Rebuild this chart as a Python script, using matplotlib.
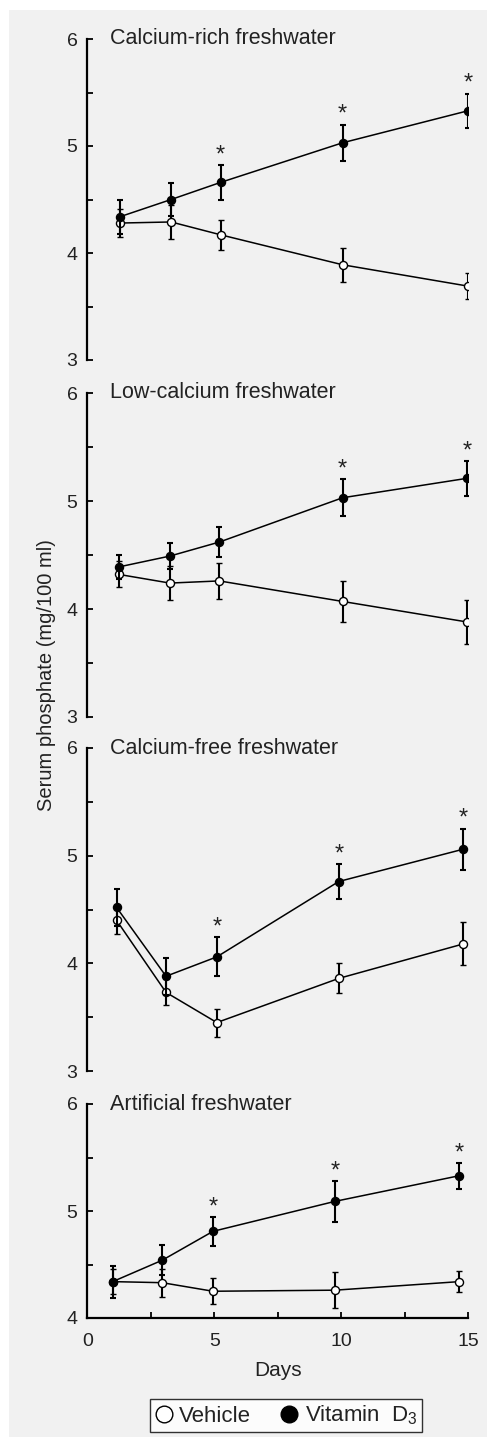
import matplotlib
matplotlib.use('Agg')
import matplotlib.pyplot as plt
from matplotlib.lines import Line2D
from matplotlib.patches import Rectangle
from matplotlib.ticker import MultipleLocator

plt.rcParams['font.family'] = ['Liberation Sans', 'DejaVu Sans']
plt.rcParams['mathtext.default'] = 'regular'

# Panel titles
titles = ['Calcium-rich freshwater', 'Low-calcium freshwater',
          'Calcium-free freshwater', 'Artificial freshwater']

# Sampling days (the scans are slightly shifted)
days_rich = [1.3, 3.3, 5.25, 10.05, 15.0]
days_low = [1.25, 3.25, 5.2, 10.05, 14.95]
days_free = [1.15, 3.1, 5.1, 9.9, 14.8]
days_art = [1.0, 2.95, 4.95, 9.75, 14.65]

# Vehicle (open circles): mean and SEM
veh_rich = [4.28, 4.29, 4.17, 3.89, 3.69]
veh_rich_err = [0.13, 0.16, 0.14, 0.16, 0.12]
veh_low = [4.32, 4.24, 4.26, 4.07, 3.88]
veh_low_err = [0.12, 0.16, 0.17, 0.19, 0.20]
veh_free = [4.40, 3.73, 3.45, 3.86, 4.18]
veh_free_err = [0.13, 0.12, 0.13, 0.14, 0.20]
veh_art = [4.34, 4.33, 4.25, 4.26, 4.34]
veh_art_err = [0.12, 0.13, 0.12, 0.17, 0.10]

# Vitamin D3 (filled circles): mean and SEM
vit_rich = [4.34, 4.50, 4.66, 5.03, 5.33]
vit_rich_err = [0.16, 0.15, 0.16, 0.17, 0.16]
vit_low = [4.39, 4.49, 4.62, 5.03, 5.21]
vit_low_err = [0.11, 0.12, 0.14, 0.17, 0.16]
vit_free = [4.52, 3.88, 4.06, 4.76, 5.06]
vit_free_err = [0.17, 0.17, 0.18, 0.16, 0.19]
vit_art = [4.34, 4.54, 4.81, 5.09, 5.33]
vit_art_err = [0.15, 0.14, 0.135, 0.19, 0.12]

# indices of significant vitamin D3 points (asterisks)
sig_rich = [2, 3, 4]
sig_low = [3, 4]
sig_free = [2, 3, 4]
sig_art = [2, 3, 4]

panels = [
    (days_rich, veh_rich, veh_rich_err, vit_rich, vit_rich_err, sig_rich, (3, 6)),
    (days_low, veh_low, veh_low_err, vit_low, vit_low_err, sig_low, (3, 6)),
    (days_free, veh_free, veh_free_err, vit_free, vit_free_err, sig_free, (3, 6)),
    (days_art, veh_art, veh_art_err, vit_art, vit_art_err, sig_art, (4, 6)),
]

W, H = 487, 1447
fig = plt.figure(figsize=(W / 100, H / 100), dpi=100)
fig.patch.set_facecolor('white')
fig.patches.append(Rectangle((9 / W, 1 - 1437 / H), 1 - 9 / W, (1437 - 10) / H,
                             transform=fig.transFigure, facecolor='#f1f1f1',
                             edgecolor='none', zorder=-10))

# axes placement in pixels (top of y=6, bottom of axis)
boxes = [(39, 360), (393, 717), (748, 1071), (1104, 1318)]
left = 87.3 / W
width = (468.3 - 87.3) / W

for i, ((days, veh, veh_e, vit, vit_e, sig, ylim), (top, bot)) in enumerate(zip(panels, boxes)):
    ax = fig.add_axes([left, 1 - bot / H, width, (bot - top) / H])
    ax.patch.set_alpha(0)
    ax.set_xlim(0, 15)
    ax.set_ylim(*ylim)
    ax.errorbar(days, veh, yerr=veh_e, fmt='-o', color='black', lw=1.1,
                elinewidth=1.5, capsize=2.2, capthick=1.5, ms=5.8,
                mfc='white', mec='black', mew=1.0, zorder=3)
    ax.errorbar(days, vit, yerr=vit_e, fmt='-o', color='black', lw=1.1,
                elinewidth=1.5, capsize=2.2, capthick=1.5, ms=5.8,
                mfc='black', mec='black', zorder=4)
    for j in sig:
        ax.annotate('*', (days[j], vit[j] + vit_e[j]), xytext=(0, 7),
                    textcoords='offset points', ha='center', va='center',
                    fontsize=17, color='#222222')
    ax.text(0.9, 6, titles[i], ha='left', va='center', fontsize=15.5,
            color='#222222')

    for s in ['top', 'right']:
        ax.spines[s].set_visible(False)
    ax.spines['left'].set_linewidth(1.6)
    ax.yaxis.set_major_locator(MultipleLocator(1))
    ax.yaxis.set_minor_locator(MultipleLocator(0.5))
    ax.tick_params(axis='y', which='both', direction='in', length=4.5,
                   width=1.3, labelsize=14, pad=7, labelcolor='#222222')
    if i < 3:
        ax.spines['bottom'].set_visible(False)
        ax.set_xticks([])
    else:
        ax.spines['bottom'].set_linewidth(1.6)
        ax.xaxis.set_major_locator(MultipleLocator(5))
        ax.xaxis.set_minor_locator(MultipleLocator(2.5))
        ax.tick_params(axis='x', which='both', direction='in', length=4.5,
                       width=1.3, labelsize=14, pad=11, labelcolor='#222222')
        ax.set_xlabel('Days', fontsize=15, labelpad=8, color='#222222')

fig.text(47 / W, 1 - 675 / H, 'Serum phosphate (mg/100 ml)', rotation=90,
         ha='center', va='center', fontsize=14.5, color='#222222')

handles = [
    Line2D([], [], ls='none', marker='o', ms=12, mfc='white', mec='black', mew=1.0),
    Line2D([], [], ls='none', marker='o', ms=12, mfc='black', mec='black'),
]
leg = fig.legend(handles, ['Vehicle', 'Vitamin  D$_3$'], ncol=2,
                 loc='center', bbox_to_anchor=(286 / W, 1 - 1415.5 / H),
                 frameon=True, fancybox=False, fontsize=16,
                 handlelength=0.8, handletextpad=0.3, columnspacing=1.3,
                 borderpad=0.2, borderaxespad=0, labelcolor='#222222')
leg.get_frame().set_edgecolor('black')
leg.get_frame().set_linewidth(1.0)
leg.get_frame().set_facecolor('white')

fig.savefig('out.png', dpi=100)
